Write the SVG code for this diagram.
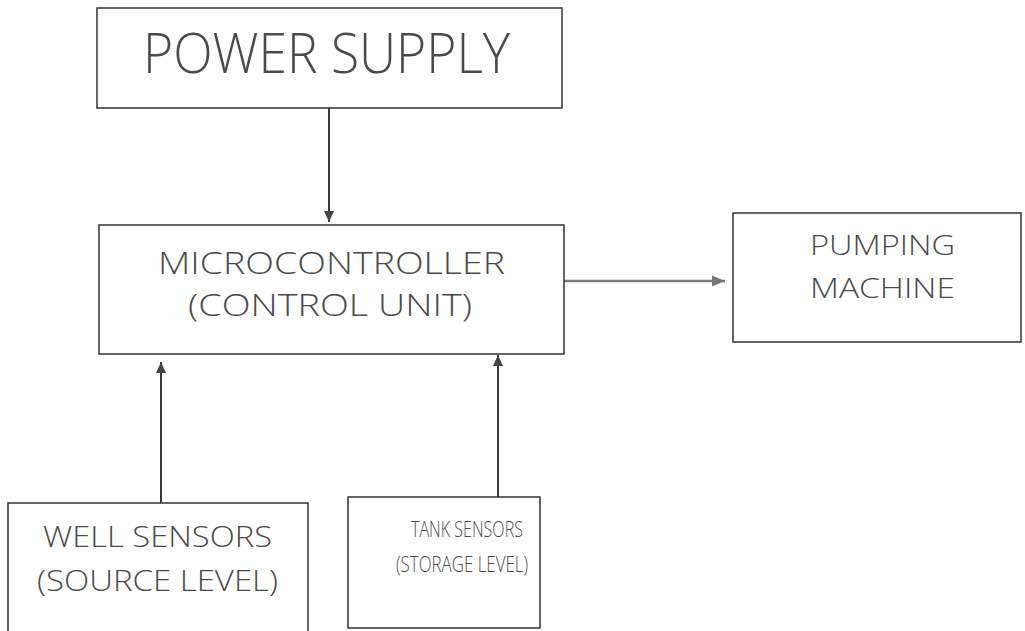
<svg xmlns="http://www.w3.org/2000/svg" width="1025" height="631" viewBox="0 0 1025 631">
<style>
.box{fill:#fff;stroke:#333;stroke-width:1.5}
.t{font-family:"Open Sans","Liberation Sans",sans-serif;font-weight:300;fill:#4a4a4a;text-anchor:middle}
.c{stroke:#3a3a3a;stroke-width:2;fill:none}
.ch{stroke:#7a7a7a;stroke-width:2.5;fill:none}
</style>
<defs>
<marker id="ah" markerUnits="userSpaceOnUse" markerWidth="12" markerHeight="12" refX="11" refY="6" orient="auto">
<path d="M0,1 L11,6 L0,11 Z" fill="#444"/>
</marker>
<marker id="ahg" markerUnits="userSpaceOnUse" markerWidth="14" markerHeight="12" refX="13" refY="6" orient="auto">
<path d="M0,0.5 L13,6 L0,11.5 Z" fill="#777"/>
</marker>
</defs>
<rect width="1025" height="631" fill="#fff"/>
<g id="connectors">
<line class="c" x1="329" y1="108" x2="329" y2="222" marker-end="url(#ah)"/>
<line class="ch" x1="564" y1="281" x2="725" y2="281" marker-end="url(#ahg)"/>
<line class="c" x1="161" y1="503" x2="161" y2="362" marker-end="url(#ah)"/>
<line class="c" x1="498" y1="498" x2="498" y2="355" marker-end="url(#ah)"/>
</g>
<g id="power-supply">
<rect class="box" x="97" y="8" width="465" height="100"/>
<text class="t" x="326.5" y="73" font-size="56" textLength="367" lengthAdjust="spacingAndGlyphs">POWER SUPPLY</text>
</g>
<g id="microcontroller">
<rect class="box" x="99" y="225" width="465" height="129"/>
<text class="t" x="331.5" y="274" font-size="32" textLength="347" lengthAdjust="spacingAndGlyphs">MICROCONTROLLER</text>
<text class="t" x="330" y="316" font-size="32" textLength="284" lengthAdjust="spacingAndGlyphs">(CONTROL UNIT)</text>
</g>
<g id="pumping-machine">
<rect class="box" x="733" y="213" width="288" height="129"/>
<text class="t" x="882.5" y="255" font-size="28" textLength="145" lengthAdjust="spacingAndGlyphs">PUMPING</text>
<text class="t" x="882.5" y="298" font-size="28" textLength="145" lengthAdjust="spacingAndGlyphs">MACHINE</text>
</g>
<g id="well-sensors">
<rect class="box" x="8" y="503" width="300" height="140"/>
<text class="t" x="157.5" y="547" font-size="30" textLength="229" lengthAdjust="spacingAndGlyphs">WELL SENSORS</text>
<text class="t" x="157.5" y="591" font-size="30" textLength="241" lengthAdjust="spacingAndGlyphs">(SOURCE LEVEL)</text>
</g>
<g id="tank-sensors">
<rect class="box" x="348" y="497" width="192" height="131"/>
<text class="t" x="467" y="537" font-size="22" textLength="112" lengthAdjust="spacingAndGlyphs">TANK SENSORS</text>
<text class="t" x="462" y="572" font-size="22" textLength="132" lengthAdjust="spacingAndGlyphs">(STORAGE LEVEL)</text>
</g>
</svg>
